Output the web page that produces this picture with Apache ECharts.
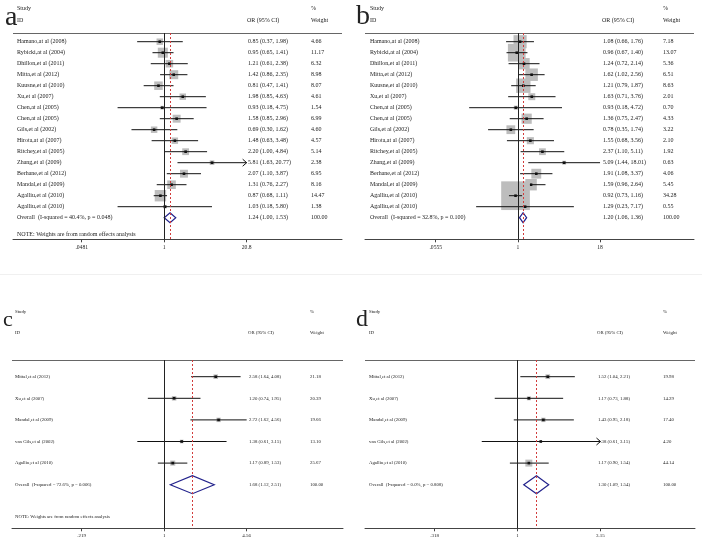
<!DOCTYPE html>
<html><head><meta charset="utf-8">
<script src="https://cdn.jsdelivr.net/npm/echarts@6/dist/echarts.min.js"></script>
<style>html,body{margin:0;padding:0;background:#fff}#c{width:702px;height:545px}</style>
</head><body><div id="c"></div>
<script>
// ---------- DATA ----------
const abStudies = ['Hamano,at al (2008)','Rybicki,at al (2004)','Dhillon,et al (2011)','Mitta,et al (2012)','Kuusne,et al (2010)','Xu,et al (2007)','Chen,at al (2005)','Chen,at al (2005)','Gils,et al (2002)','Hirota,at al (2007)','Ritchey,et al (2005)','Zhang,et al (2009)','Berhane,et al (2012)','Mandal,et al (2009)','Agalliu,et al (2010)','Agalliu,et al (2010)'];
const aOR     = [0.85,0.95,1.21,1.42,0.81,1.98,0.93,1.58,0.69,1.48,2.20,5.81,2.07,1.31,0.87,1.03];
const aLower  = [0.37,0.65,0.61,0.86,0.47,0.85,0.18,0.85,0.30,0.63,1.00,1.63,1.10,0.76,0.68,0.18];
const aUpper  = [1.98,1.41,2.38,2.35,1.41,4.63,4.75,2.96,1.62,3.48,4.84,20.77,3.87,2.27,1.11,5.80];
const aWeight = [4.66,11.17,6.32,8.98,8.07,4.61,1.54,6.99,4.60,4.57,5.14,2.38,6.95,8.16,14.47,1.38];
const aOverall = [1.24,1.00,1.53];
const aOverallLabel = 'Overall  (I-squared = 40.4%, p = 0.048)';
const aTicks = [0.0481,1,20.8];
const aTickLabels = ['.0481','1','20.8'];
const aArrows = [11];

const bOR     = [1.08,0.96,1.24,1.62,1.21,1.63,0.93,1.36,0.78,1.55,2.37,5.09,1.91,1.59,0.92,1.29];
const bLower  = [0.66,0.67,0.72,1.02,0.79,0.71,0.18,0.75,0.35,0.68,1.10,1.44,1.08,0.96,0.73,0.23];
const bUpper  = [1.76,1.40,2.14,2.56,1.87,3.76,4.72,2.47,1.74,3.56,5.11,18.01,3.37,2.64,1.16,7.17];
const bWeight = [7.18,13.07,5.36,6.51,8.63,2.01,0.70,4.33,3.22,2.10,1.92,0.63,4.06,5.45,34.28,0.55];
const bOverall = [1.20,1.06,1.36];
const bOverallLabel = 'Overall  (I-squared = 32.8%, p = 0.100)';
const bTicks = [0.0555,1,18];
const bTickLabels = ['.0555','1','18'];
const bArrows = [];

const cdStudies = ['Mittal,et al (2012)','Xu,et al (2007)','Mandal,et al (2009)','van Gils,et al (2002)','Agalliu,et al (2010)'];
const cOR     = [2.58,1.20,2.72,1.38,1.17];
const cLower  = [1.64,0.74,1.62,0.61,0.89];
const cUpper  = [4.08,1.95,4.56,3.15,1.53];
const cWeight = [21.18,20.39,19.66,13.10,25.67];
const cOverall = [1.68,1.12,2.51];
const cOverallLabel = 'Overall  (I-squared = 72.6%, p = 0.006)';
const cTicks = [0.219,1,4.56];
const cTickLabels = ['.219','1','4.56'];
const cArrows = [];

const dOR     = [1.52,1.17,1.43,1.38,1.17];
const dLower  = [1.04,0.73,0.95,0.61,0.90];
const dUpper  = [2.21,1.88,2.18,3.15,1.54];
const dWeight = [19.98,14.29,17.40,4.20,44.14];
const dOverall = [1.30,1.09,1.54];
const dOverallLabel = 'Overall  (I-squared = 0.0%, p = 0.808)';
const dTicks = [0.318,1,3.15];
const dTickLabels = ['.318','1','3.15'];
const dArrows = [3];

const noteText = 'NOTE: Weights are from random effects analysis';

// ---------- LAYOUT ----------
const FONT = '"Liberation Serif", "Times New Roman", serif';
const TXT = '#222';
const panels = [
  {letter:'a', studies:abStudies, or:aOR, lo:aLower, hi:aUpper, w:aWeight, ov:aOverall, ovLabel:aOverallLabel, ticks:aTicks, tickLabels:aTickLabels, arrows:aArrows, note:true,
   grid:{left:13, top:33, width:329, height:206.3}, center:164.2, scale:27.185, y0:41.7, dy:11.0,
   fs:6, tfs:5.6, box:3.0, dia:5, nameX:17, orX:248, wX:311, letterX:5, letterY:20, letterFs:28, studyY:8, idY:20, noteY:234},
  {letter:'b', studies:abStudies, or:bOR, lo:bLower, hi:bUpper, w:bWeight, ov:bOverall, ovLabel:bOverallLabel, ticks:bTicks, tickLabels:bTickLabels, arrows:bArrows, note:false,
   grid:{left:365, top:33, width:329, height:206.3}, center:517.9, scale:28.42, y0:41.7, dy:11.0,
   fs:6, tfs:5.6, box:4.9, dia:5, nameX:370, orX:603, wX:663, letterX:356, letterY:19, letterFs:28, studyY:8, idY:20, noteY:234},
  {letter:'c', studies:cdStudies, or:cOR, lo:cLower, hi:cUpper, w:cWeight, ov:cOverall, ovLabel:cOverallLabel, ticks:cTicks, tickLabels:cTickLabels, arrows:cArrows, note:true,
   grid:{left:12, top:360, width:331, height:168.3}, center:164.2, scale:54.35, y0:376.7, dy:21.6,
   fs:4.8, tfs:5, box:1.0, dia:9, nameX:15, orX:249, wX:310, letterX:3, letterY:322, letterFs:22, studyY:312, idY:333, noteY:516.7},
  {letter:'d', studies:cdStudies, or:dOR, lo:dLower, hi:dUpper, w:dWeight, ov:dOverall, ovLabel:dOverallLabel, ticks:dTicks, tickLabels:dTickLabels, arrows:dArrows, note:false,
   grid:{left:365, top:360, width:330, height:168.3}, center:517.5, scale:72.3, y0:376.7, dy:21.6,
   fs:4.8, tfs:5, box:1.05, dia:9, nameX:369, orX:598, wX:663, letterX:356, letterY:322, letterFs:24, studyY:312, idY:333, noteY:516.7}
];

const fmt = v => v.toFixed(2);
const ln = Math.log;

function makeRender(P) {
  const tmin = ln(P.ticks[0]), tmax = ln(P.ticks[P.ticks.length-1]);
  return function(params, api) {
    const idx = params.dataIndex;
    const row = api.value(0);
    const y = api.coord([0, row])[1];
    const X = v => api.coord([v, row])[0];
    const font = P.fs + 'px ' + FONT;
    const ch = [];
    const txt = (x, s) => ({type:'text', style:{x:x, y:y, text:s, font:font, fill:TXT, verticalAlign:'middle', align:'left'}});
    if (idx < P.studies.length) {
      const o = ln(P.or[idx]), l = Math.max(ln(P.lo[idx]), tmin), h = Math.min(ln(P.hi[idx]), tmax);
      const xo = X(o), xl = X(l), xh = X(h);
      const s = P.box * Math.sqrt(P.w[idx]);
      ch.push({type:'rect', shape:{x:xo-s/2, y:y-s/2, width:s, height:s}, style:{fill:'#bdbdbd'}});
      ch.push({type:'line', shape:{x1:xl, y1:y, x2:xh, y2:y}, style:{stroke:'#111', lineWidth:1}});
      if (P.arrows.indexOf(idx) >= 0) {
        ch.push({type:'polyline', shape:{points:[[xh-4,y-3.5],[xh,y],[xh-4,y+3.5]]}, style:{stroke:'#111', lineWidth:1, fill:null}});
      }
      ch.push({type:'rect', shape:{x:xo-1.3, y:y-1.3, width:2.6, height:2.6}, style:{fill:'#111'}});
      ch.push(txt(P.nameX, P.studies[idx]));
      ch.push(txt(P.orX, fmt(P.or[idx]) + ' (' + fmt(P.lo[idx]) + ', ' + fmt(P.hi[idx]) + ')'));
      ch.push(txt(P.wX, fmt(P.w[idx])));
    } else {
      const xo = X(ln(P.ov[0])), xl = X(ln(P.ov[1])), xh = X(ln(P.ov[2]));
      const d = P.dia;
      ch.push({type:'polygon', shape:{points:[[xl,y],[xo,y-d],[xh,y],[xo,y+d]]}, style:{stroke:'#22228c', lineWidth:1.2, fill:null}});
      ch.push(txt(P.nameX, P.ovLabel));
      ch.push(txt(P.orX, fmt(P.ov[0]) + ' (' + fmt(P.ov[1]) + ', ' + fmt(P.ov[2]) + ')'));
      ch.push(txt(P.wX, '100.00'));
    }
    return {type:'group', children:ch};
  };
}

const grids = [], xAxes = [], yAxes = [], series = [], graphics = [];
panels.forEach((P, k) => {
  const g = P.grid;
  grids.push({left:g.left, top:g.top, width:g.width, height:g.height, containLabel:false});
  const lnT = P.ticks.map(ln);
  xAxes.push({
    type:'value', gridIndex:k,
    min:(g.left - P.center)/P.scale, max:(g.left + g.width - P.center)/P.scale,
    axisLine:{show:true, onZero:false, lineStyle:{color:'#444', width:1}},
    axisTick:{show:true, customValues:lnT, length:3, lineStyle:{color:'#444'}},
    axisLabel:{show:true, customValues:lnT, margin:5, fontSize:P.tfs, fontFamily:FONT, color:TXT,
      formatter: v => { let b = 0; lnT.forEach((t,i)=>{ if (Math.abs(t-v) < Math.abs(lnT[b]-v)) b = i; }); return P.tickLabels[b]; }},
    splitLine:{show:false}
  });
  yAxes.push({type:'value', gridIndex:k, inverse:true, show:false,
    min:(g.top - P.y0)/P.dy, max:(g.top + g.height - P.y0)/P.dy});
  const n = P.studies.length;
  const data = [];
  for (let i = 0; i <= n; i++) data.push([i, 0]);
  series.push({
    type:'custom', xAxisIndex:k, yAxisIndex:k, renderItem:makeRender(P), data:data, clip:false, silent:true, animation:false,
    encode:{x:1, y:0},
    markLine:{silent:true, symbol:['none','none'], animation:false, label:{show:false},
      data:[
        {xAxis:0, lineStyle:{color:'#222', width:1, type:'solid'}},
        {xAxis:ln(P.ov[0]), lineStyle:{color:'#d23c3c', width:1, type:[2,2]}}
      ]}
  });
  // headers
  const hfs = P.fs;
  graphics.push({type:'text', left:P.letterX, top:P.letterY - P.letterFs*0.6, style:{text:P.letter, font:P.letterFs+'px '+FONT, fill:'#222'}});
  const ht = (x, y, s) => ({type:'text', x:x, y:y, style:{text:s, font:hfs+'px '+FONT, fill:TXT, verticalAlign:'middle'}});
  graphics.push(ht(P.nameX, P.studyY, 'Study'));
  graphics.push(ht(P.nameX, P.idY, 'ID'));
  graphics.push(ht(P.orX - 1, P.idY, 'OR (95% CI)'));
  graphics.push(ht(P.wX, P.studyY, '%'));
  graphics.push(ht(P.wX, P.idY, 'Weight'));
  graphics.push({type:'line', shape:{x1:g.left, y1:g.top+0.5, x2:g.left+g.width, y2:g.top+0.5}, style:{stroke:'#666', lineWidth:1}});
  if (P.note) graphics.push(ht(P.nameX, P.noteY, noteText));
});
graphics.push({type:'line', shape:{x1:0, y1:274.5, x2:702, y2:274.5}, style:{stroke:'#f0f0f0', lineWidth:1}});

const chart = echarts.init(document.getElementById('c'), null, {renderer:'canvas'});
chart.setOption({
  animation:false,
  backgroundColor:'#fff',
  grid:grids, xAxis:xAxes, yAxis:yAxes, series:series, graphic:graphics
});
</script></body></html>
